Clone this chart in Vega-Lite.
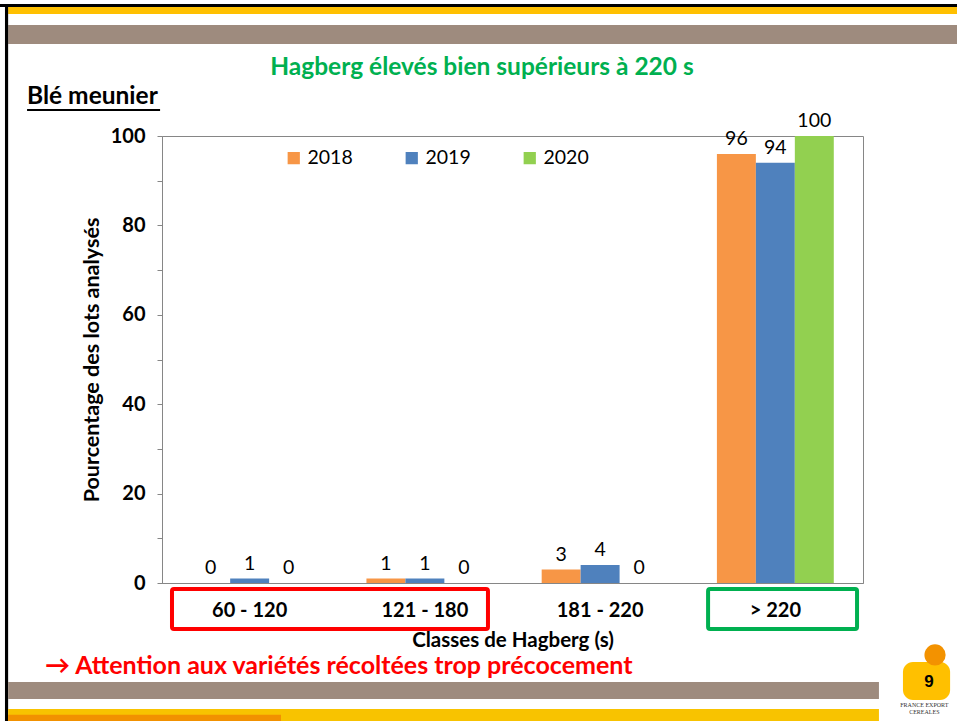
{
  "$schema": "https://vega.github.io/schema/vega-lite/v6.json",
  "width": 701,
  "height": 447,
  "autosize": "none",
  "padding": {"left": 162, "top": 136, "right": 94, "bottom": 138},
  "background": "white",
  "config": {
    "font": "Lato, sans-serif",
    "view": {"stroke": "#868686", "strokeWidth": 1},
    "axis": {"grid": false, "domainColor": "#868686", "tickColor": "#868686", "labelColor": "#000000", "titleColor": "#000000", "labelFont": "Lato, sans-serif", "titleFont": "Lato, sans-serif"},
    "legend": {"labelFont": "Lato, sans-serif"},
    "text": {"font": "Lato, sans-serif"}
  },
  "resolve": {"scale": {"x": "independent", "y": "independent"}},
  "layer": [
    {
      "data": {"values": [
        {"classe": "60 - 120", "annee": "2018", "pct": 0},
        {"classe": "60 - 120", "annee": "2019", "pct": 1},
        {"classe": "60 - 120", "annee": "2020", "pct": 0},
        {"classe": "121 - 180", "annee": "2018", "pct": 1},
        {"classe": "121 - 180", "annee": "2019", "pct": 1},
        {"classe": "121 - 180", "annee": "2020", "pct": 0},
        {"classe": "181 - 220", "annee": "2018", "pct": 3},
        {"classe": "181 - 220", "annee": "2019", "pct": 4},
        {"classe": "181 - 220", "annee": "2020", "pct": 0},
        {"classe": "> 220", "annee": "2018", "pct": 96},
        {"classe": "> 220", "annee": "2019", "pct": 94},
        {"classe": "> 220", "annee": "2020", "pct": 100}
      ]},
      "encoding": {
        "x": {"field": "classe", "type": "nominal", "sort": ["60 - 120", "121 - 180", "181 - 220", "> 220"],
          "scale": {"paddingInner": 0.333, "paddingOuter": 0.1667},
          "title": "Classes de Hagberg (s)",
          "axis": {"ticks": false, "labelAngle": 0, "labelFontSize": 20, "labelFontWeight": "bold", "labelPadding": 17, "titleFontSize": 20.5, "titleFontWeight": "bold", "titlePadding": 10}},
        "xOffset": {"field": "annee", "type": "nominal", "scale": {"paddingInner": 0, "paddingOuter": 0}},
        "y": {"field": "pct", "type": "quantitative", "scale": {"domain": [0, 100], "nice": false},
          "title": "Pourcentage des lots analysés",
          "axis": {"values": [0, 10, 20, 30, 40, 50, 60, 70, 80, 90, 100], "labelExpr": "datum.value % 20 === 0 ? datum.label : ''", "tickSize": 5, "labelFontSize": 20, "labelFontWeight": "bold", "labelPadding": 12, "titleFontSize": 21.5, "titleFontWeight": "bold", "titlePadding": 7}}
      },
      "layer": [
        {"mark": {"type": "bar"},
          "encoding": {"color": {"field": "annee", "type": "nominal", "scale": {"domain": ["2018", "2019", "2020"], "range": ["#F79646", "#4F81BD", "#92D050"]},
            "legend": {"orient": "none", "legendX": 122, "legendY": 12, "direction": "horizontal", "title": null, "symbolType": "square", "symbolSize": 150, "symbolStrokeWidth": 0, "labelFontSize": 19.5, "columnPadding": 49, "labelColor": "#000000"}}}},
        {"mark": {"type": "text", "baseline": "alphabetic", "dy": -9, "fontSize": 19.5, "color": "#000000"},
          "encoding": {"text": {"field": "pct", "type": "quantitative"}}}
      ]
    },
    {
      "data": {"values": [{}]},
      "layer": [
        {"mark": {"type": "rect", "color": "#000000"},
          "encoding": {"x": {"datum": -0.95, "type": "quantitative", "scale": {"domain": [0, 4], "nice": false, "zero": false}, "axis": null}, "x2": {"datum": 4.6},
            "y": {"datum": 129.55, "type": "quantitative", "scale": {"domain": [0, 100], "nice": false, "zero": false}, "axis": null}, "y2": {"datum": 128.86}}},
        {"mark": {"type": "rect", "color": "#FFC000"},
          "encoding": {"x": {"datum": -0.878, "type": "quantitative", "scale": {"domain": [0, 4], "nice": false, "zero": false}, "axis": null}, "x2": {"datum": 4.6},
            "y": {"datum": 128.86, "type": "quantitative", "scale": {"domain": [0, 100], "nice": false, "zero": false}, "axis": null}, "y2": {"datum": 127.3}}},
        {"mark": {"type": "rect", "color": "#9E8B7E"},
          "encoding": {"x": {"datum": -0.878, "type": "quantitative", "scale": {"domain": [0, 4], "nice": false, "zero": false}, "axis": null}, "x2": {"datum": 4.6},
            "y": {"datum": 124.83, "type": "quantitative", "scale": {"domain": [0, 100], "nice": false, "zero": false}, "axis": null}, "y2": {"datum": 120.58}}},
        {"mark": {"type": "rect", "color": "#000000"},
          "encoding": {"x": {"datum": -0.896, "type": "quantitative", "scale": {"domain": [0, 4], "nice": false, "zero": false}, "axis": null}, "x2": {"datum": -0.878},
            "y": {"datum": 129.55, "type": "quantitative", "scale": {"domain": [0, 100], "nice": false, "zero": false}, "axis": null}, "y2": {"datum": -31}}},
        {"mark": {"type": "rect", "color": "#9E8B7E"},
          "encoding": {"x": {"datum": -0.878, "type": "quantitative", "scale": {"domain": [0, 4], "nice": false, "zero": false}, "axis": null}, "x2": {"datum": 4.091},
            "y": {"datum": -22.15, "type": "quantitative", "scale": {"domain": [0, 100], "nice": false, "zero": false}, "axis": null}, "y2": {"datum": -25.95}}},
        {"mark": {"type": "rect", "color": "#F8C300"},
          "encoding": {"x": {"datum": -0.878, "type": "quantitative", "scale": {"domain": [0, 4], "nice": false, "zero": false}, "axis": null}, "x2": {"datum": 4.091},
            "y": {"datum": -28.19, "type": "quantitative", "scale": {"domain": [0, 100], "nice": false, "zero": false}, "axis": null}, "y2": {"datum": -31}}},
        {"mark": {"type": "rect", "color": "#F29100"},
          "encoding": {"x": {"datum": -0.878, "type": "quantitative", "scale": {"domain": [0, 4], "nice": false, "zero": false}, "axis": null}, "x2": {"datum": 0.679},
            "y": {"datum": -29.5, "type": "quantitative", "scale": {"domain": [0, 100], "nice": false, "zero": false}, "axis": null}, "y2": {"datum": -31}}},
        {"mark": {"type": "rect", "fillOpacity": 0, "stroke": "#FF0000", "strokeWidth": 4, "cornerRadius": 2},
          "encoding": {"x": {"datum": 0.057, "type": "quantitative", "scale": {"domain": [0, 4], "nice": false, "zero": false}, "axis": null}, "x2": {"datum": 1.86},
            "y": {"datum": -1.34, "type": "quantitative", "scale": {"domain": [0, 100], "nice": false, "zero": false}, "axis": null}, "y2": {"datum": -10.29}}},
        {"mark": {"type": "rect", "fillOpacity": 0, "stroke": "#00B050", "strokeWidth": 4, "cornerRadius": 2},
          "encoding": {"x": {"datum": 3.116, "type": "quantitative", "scale": {"domain": [0, 4], "nice": false, "zero": false}, "axis": null}, "x2": {"datum": 3.966},
            "y": {"datum": -1.34, "type": "quantitative", "scale": {"domain": [0, 100], "nice": false, "zero": false}, "axis": null}, "y2": {"datum": -10.29}}},
        {"mark": {"type": "text", "text": "Hagberg élevés bien supérieurs à 220 s", "align": "center", "baseline": "middle", "fontSize": 24.5, "fontWeight": "bold", "color": "#00B050"},
          "encoding": {"x": {"datum": 1.826, "type": "quantitative", "scale": {"domain": [0, 4], "nice": false, "zero": false}, "axis": null},
            "y": {"datum": 115.2, "type": "quantitative", "scale": {"domain": [0, 100], "nice": false, "zero": false}, "axis": null}}},
        {"mark": {"type": "text", "text": "Blé meunier", "align": "left", "baseline": "middle", "fontSize": 24.5, "fontWeight": "bold", "color": "#000000"},
          "encoding": {"x": {"datum": -0.77, "type": "quantitative", "scale": {"domain": [0, 4], "nice": false, "zero": false}, "axis": null},
            "y": {"datum": 108.7, "type": "quantitative", "scale": {"domain": [0, 100], "nice": false, "zero": false}, "axis": null}}},
        {"mark": {"type": "rule", "color": "#000000", "strokeWidth": 2},
          "encoding": {"x": {"datum": -0.77, "type": "quantitative", "scale": {"domain": [0, 4], "nice": false, "zero": false}, "axis": null}, "x2": {"datum": -0.011},
            "y": {"datum": 105.8, "type": "quantitative", "scale": {"domain": [0, 100], "nice": false, "zero": false}, "axis": null}}},
        {"mark": {"type": "text", "text": "→ Attention aux variétés récoltées trop précocement", "align": "left", "baseline": "middle", "fontSize": 25, "fontWeight": "bold", "color": "#FF0000"},
          "encoding": {"x": {"datum": -0.668, "type": "quantitative", "scale": {"domain": [0, 4], "nice": false, "zero": false}, "axis": null},
            "y": {"datum": -18.6, "type": "quantitative", "scale": {"domain": [0, 100], "nice": false, "zero": false}, "axis": null}}},
        {"mark": {"type": "rect", "color": "#FFC000", "cornerRadius": 10},
          "encoding": {"x": {"datum": 4.228, "type": "quantitative", "scale": {"domain": [0, 4], "nice": false, "zero": false}, "axis": null}, "x2": {"datum": 4.497},
            "y": {"datum": -17.67, "type": "quantitative", "scale": {"domain": [0, 100], "nice": false, "zero": false}, "axis": null}, "y2": {"datum": -26.17}}},
        {"mark": {"type": "point", "filled": true, "opacity": 1, "color": "#F39200", "size": 450},
          "encoding": {"x": {"datum": 4.411, "type": "quantitative", "scale": {"domain": [0, 4], "nice": false, "zero": false}, "axis": null},
            "y": {"datum": -16.1, "type": "quantitative", "scale": {"domain": [0, 100], "nice": false, "zero": false}, "axis": null}}},
        {"mark": {"type": "text", "text": "9", "align": "center", "baseline": "middle", "fontSize": 17, "fontWeight": "bold", "color": "#000000", "font": "Liberation Sans"},
          "encoding": {"x": {"datum": 4.377, "type": "quantitative", "scale": {"domain": [0, 4], "nice": false, "zero": false}, "axis": null},
            "y": {"datum": -22.15, "type": "quantitative", "scale": {"domain": [0, 100], "nice": false, "zero": false}, "axis": null}}},
        {"mark": {"type": "text", "text": "FRANCE EXPORT", "align": "center", "baseline": "middle", "fontSize": 6, "color": "#333333", "font": "Liberation Serif"},
          "encoding": {"x": {"datum": 4.35, "type": "quantitative", "scale": {"domain": [0, 4], "nice": false, "zero": false}, "axis": null},
            "y": {"datum": -27.3, "type": "quantitative", "scale": {"domain": [0, 100], "nice": false, "zero": false}, "axis": null}}},
        {"mark": {"type": "text", "text": "CEREALES", "align": "center", "baseline": "middle", "fontSize": 6, "color": "#333333", "font": "Liberation Serif"},
          "encoding": {"x": {"datum": 4.35, "type": "quantitative", "scale": {"domain": [0, 4], "nice": false, "zero": false}, "axis": null},
            "y": {"datum": -28.9, "type": "quantitative", "scale": {"domain": [0, 100], "nice": false, "zero": false}, "axis": null}}}
      ]
    }
  ]
}
